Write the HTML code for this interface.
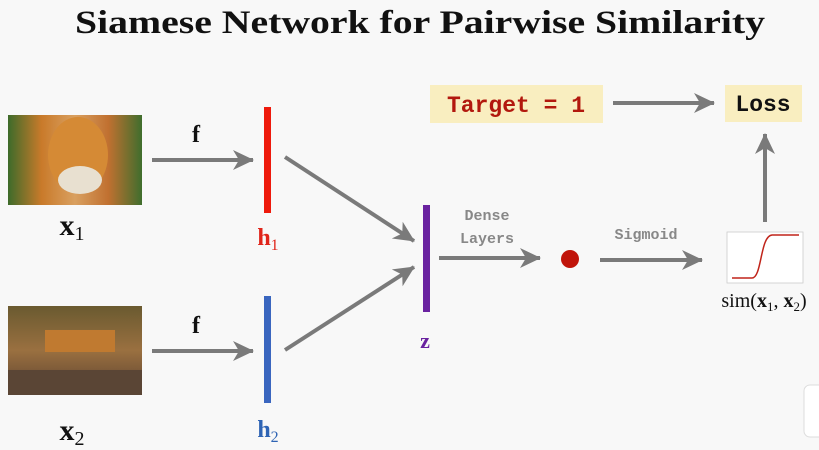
<!DOCTYPE html>
<html><head><meta charset="utf-8"><style>
html,body{margin:0;padding:0;background:#f8f8f8;}
svg{display:block}
</style></head><body>
<svg width="819" height="450" viewBox="0 0 819 450" xmlns="http://www.w3.org/2000/svg">
<defs>
<marker id="ah" markerWidth="22" markerHeight="22" refX="20" refY="10" orient="auto" markerUnits="userSpaceOnUse">
<path d="M0,0 L21,10 L0,20 L6,10 Z" fill="#7a7a7a"/></marker>
<linearGradient id="g1" x1="0" y1="0" x2="1" y2="0"><stop offset="0" stop-color="#3d6b2a"/><stop offset="0.25" stop-color="#c97a2a"/><stop offset="0.5" stop-color="#d9a060"/><stop offset="0.75" stop-color="#c07030"/><stop offset="1" stop-color="#3f6e2d"/></linearGradient>
<linearGradient id="g2" x1="0" y1="0" x2="0" y2="1"><stop offset="0" stop-color="#6a5a30"/><stop offset="0.5" stop-color="#9a7040"/><stop offset="1" stop-color="#5a4030"/></linearGradient>
</defs>
<rect width="819" height="450" fill="#f8f8f8"/>
<text x="420" y="33" text-anchor="middle" textLength="690" lengthAdjust="spacingAndGlyphs" font-family="Liberation Serif, serif" font-weight="bold" font-size="33" fill="#111">Siamese Network for Pairwise Similarity</text>

<g>
<rect x="8" y="115" width="134" height="90" fill="url(#g1)"/>
<ellipse cx="78" cy="155" rx="30" ry="38" fill="#d58a35"/>
<ellipse cx="80" cy="180" rx="22" ry="14" fill="#e8e0d0"/>
</g>
<text x="72" y="235" text-anchor="middle" font-family="Liberation Serif, serif" font-weight="bold" font-size="30" fill="#111">x<tspan font-weight="normal" font-size="20" dy="5">1</tspan></text>
<g>
<rect x="8" y="306" width="134" height="89" fill="url(#g2)"/>
<rect x="45" y="330" width="70" height="22" fill="#c07a30"/>
<rect x="8" y="370" width="134" height="25" fill="#5a4535"/>
</g>
<text x="72" y="440" text-anchor="middle" font-family="Liberation Serif, serif" font-weight="bold" font-size="30" fill="#111">x<tspan font-weight="normal" font-size="20" dy="5">2</tspan></text>

<g stroke="#7a7a7a" stroke-width="4" fill="none" marker-end="url(#ah)">
<line x1="152" y1="160" x2="253" y2="160"/>
<line x1="152" y1="351" x2="253" y2="351"/>
<line x1="285" y1="157" x2="414" y2="241"/>
<line x1="285" y1="350" x2="414" y2="267"/>
<line x1="439" y1="258" x2="540" y2="258"/>
<line x1="600" y1="260" x2="702" y2="260"/>
<line x1="765" y1="222" x2="765" y2="134"/>
<line x1="613" y1="103" x2="714" y2="103"/>
</g>
<text x="196" y="142" text-anchor="middle" font-family="Liberation Serif, serif" font-weight="bold" font-size="24" fill="#111">f</text>
<text x="196" y="333" text-anchor="middle" font-family="Liberation Serif, serif" font-weight="bold" font-size="24" fill="#111">f</text>

<rect x="264" y="107" width="7" height="106" fill="#ee1a0c"/>
<text x="268" y="245" text-anchor="middle" font-family="Liberation Serif, serif" font-weight="bold" font-size="24" fill="#e0251a">h<tspan font-weight="normal" font-size="16" dy="5">1</tspan></text>
<rect x="264" y="296" width="7" height="107" fill="#3a66bf"/>
<text x="268" y="437" text-anchor="middle" font-family="Liberation Serif, serif" font-weight="bold" font-size="24" fill="#2f64b4">h<tspan font-weight="normal" font-size="16" dy="5">2</tspan></text>
<rect x="423" y="205" width="7" height="107" fill="#6a22a0"/>
<text x="425" y="348" text-anchor="middle" font-family="Liberation Serif, serif" font-weight="bold" font-size="22" fill="#6a22a0">z</text>

<text x="487" y="220" text-anchor="middle" font-family="Liberation Mono, monospace" font-weight="bold" font-size="15" fill="#888">Dense</text>
<text x="487" y="243" text-anchor="middle" font-family="Liberation Mono, monospace" font-weight="bold" font-size="15" fill="#888">Layers</text>
<circle cx="570" cy="259" r="9" fill="#c0140a"/>
<text x="646" y="239" text-anchor="middle" font-family="Liberation Mono, monospace" font-weight="bold" font-size="15" fill="#888">Sigmoid</text>

<g>
<rect x="727" y="232" width="76" height="51" fill="#fff" stroke="#ccc" stroke-width="0.8"/>
<path d="M732,278 L752,278 C762,278 760,236 772,235 L799,235" stroke="#c0241a" stroke-width="1.5" fill="none"/>
</g>
<text x="764" y="307" text-anchor="middle" font-family="Liberation Serif, serif" font-size="20" fill="#111">sim(<tspan font-weight="bold">x</tspan><tspan font-size="13" dy="4">1</tspan><tspan dy="-4">, </tspan><tspan font-weight="bold">x</tspan><tspan font-size="13" dy="4">2</tspan><tspan dy="-4">)</tspan></text>

<rect x="430" y="85" width="173" height="38" fill="#f9eec0"/>
<text x="516" y="112" text-anchor="middle" font-family="Liberation Mono, monospace" font-weight="bold" font-size="23" fill="#b2180e">Target = 1</text>
<rect x="725" y="85" width="77" height="37" fill="#f9eec0"/>
<text x="763" y="111" text-anchor="middle" font-family="Liberation Mono, monospace" font-weight="bold" font-size="23" fill="#111">Loss</text>

<rect x="804" y="385" width="22" height="52" rx="6" fill="#fff" stroke="#ddd"/>
</svg>
</body></html>
